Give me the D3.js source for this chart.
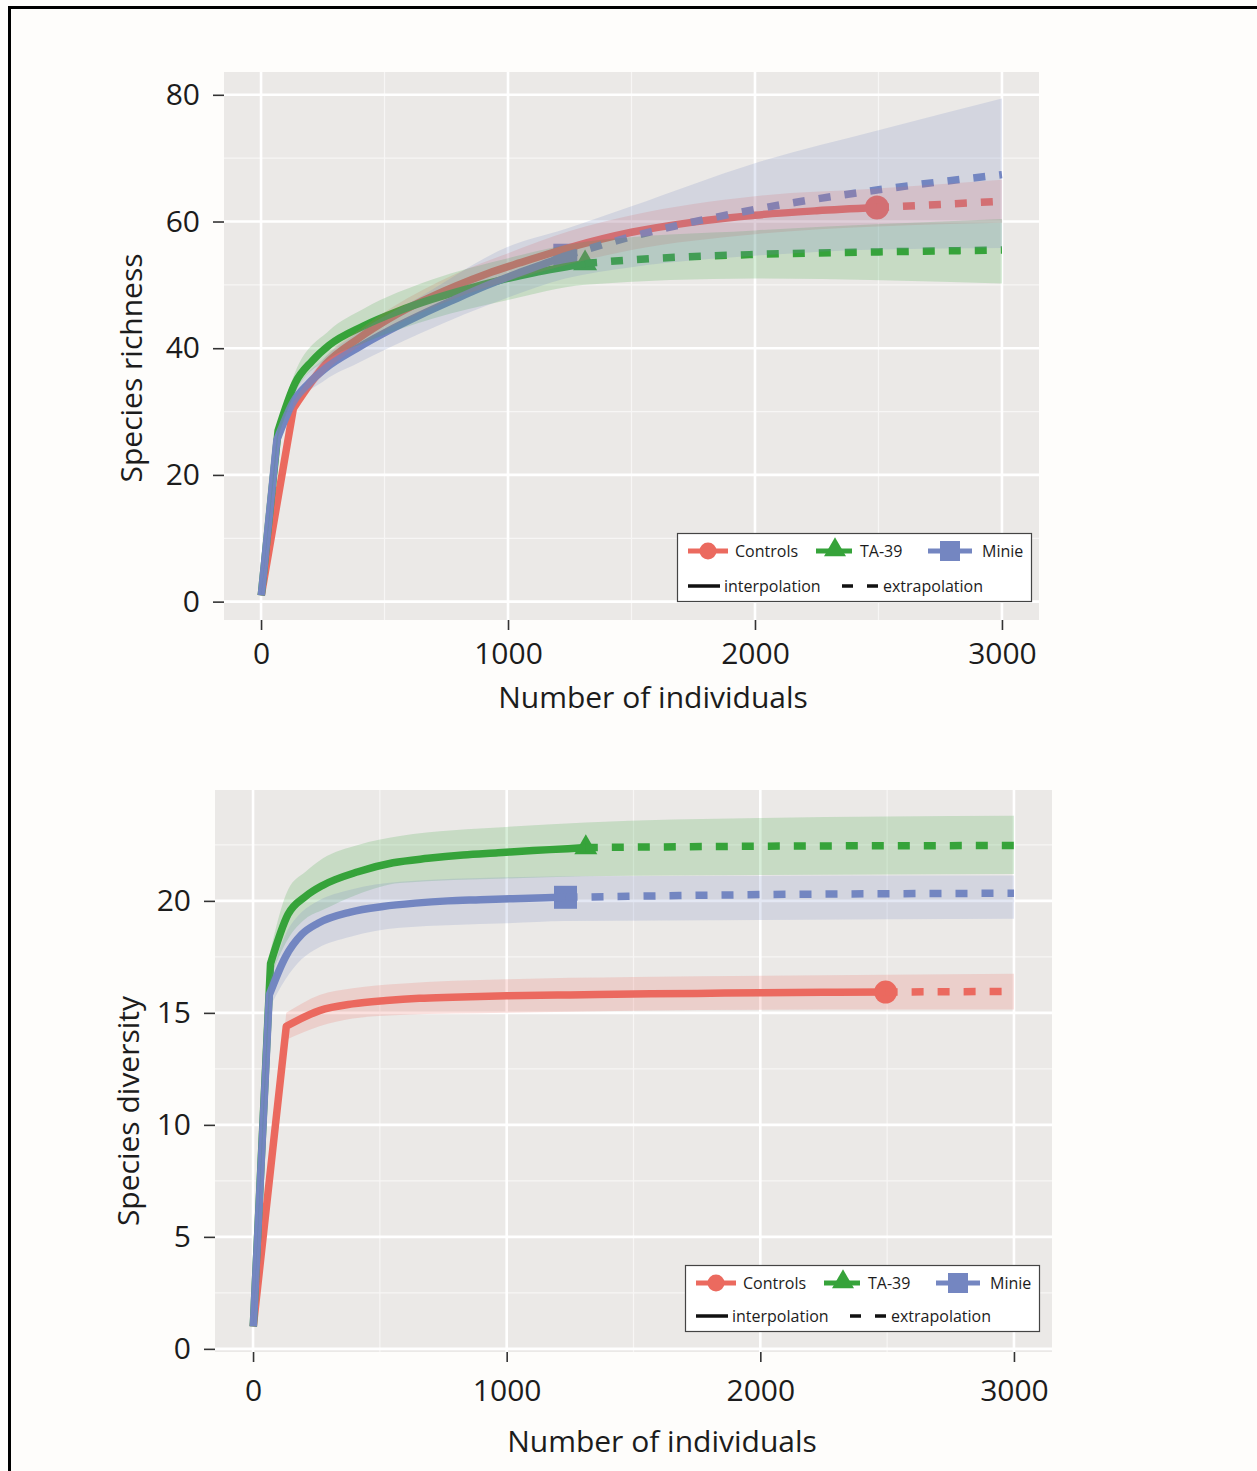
<!DOCTYPE html>
<html><head><meta charset="utf-8">
<script src="https://cdn.jsdelivr.net/npm/d3@7"></script>
<style>
body{margin:0;background:#fefdfb;}
svg{display:block;}
text{font-family:"Open Sans",sans-serif;fill:#1c1c1c;}
</style>
</head><body><svg id="c" width="1257" height="1471"></svg>
<script>
// ---------------- data ----------------
const groups = ["Controls", "TA-39", "Minie"];
const colors = ["#eb6a5f", "#36a33a", "#7486c1"];
const shapes = ["circle", "triangle", "square"];
const xTicks = [0, 1000, 2000, 3000];
const richTicks = [0, 20, 40, 60, 80];
const divTicks = [0, 5, 10, 15, 20];

// Species richness (top)
const richCtrlInterp = [[1,1],[131,30.5],[262,37.5],[393,41.5],[525,44.8],[656,47.5],[787,49.8],[918,51.8],[1050,53.5],[1250,55.9],[1500,58.3],[1750,59.9],[2000,61],[2250,61.7],[2494,62.2]];
const richCtrlExtrap = [[2494,62.2],[2750,62.7],[3000,63.2]];
const richCtrlBand = [[1,1,1],[131,29.5,31.5],[262,36.3,38.7],[393,40.2,42.8],[525,43.3,46.3],[787,47.9,51.7],[1000,50.6,55.0],[1250,53.3,58.5],[1500,55.5,61.0],[2000,58.0,64.0],[2494,59.2,65.2],[3000,59.8,66.6]];
const richTaInterp = [[1,1],[69,27],[138,34.5],[207,38],[276,40.5],[414,43.5],[552,45.8],[690,47.7],[828,49.3],[966,50.7],[1104,51.9],[1242,52.9],[1312,53.4]];
const richTaExtrap = [[1312,53.4],[1600,54.2],[2000,54.8],[2500,55.2],[3000,55.5]];
const richTaBand = [[1,1,1],[69,26,28],[138,33,36.2],[276,38.4,42.8],[414,40.8,46.2],[690,44.6,50.8],[1000,47.6,54.2],[1312,50,56.8],[2000,51,58.6],[3000,50.2,60.4]];
const richMinInterp = [[1,1],[64,25.5],[130,31.5],[194,34.5],[260,36.8],[389,40],[518,42.8],[648,45.3],[778,47.6],[907,49.8],[1037,51.8],[1166,53.6],[1232,54.6]];
const richMinExtrap = [[1232,54.6],[1500,57.6],[2000,61.9],[2500,65],[3000,67.4]];
const richMinBand = [[1,1,1],[64,24.5,26.5],[130,30.3,32.7],[260,35,38.6],[389,37.6,42.4],[648,42.4,48.2],[1000,48,56],[1232,51,58.8],[1500,52.8,62.4],[2000,54.6,69.2],[2500,55.6,74.4],[3000,55.8,79.4]];

// Species diversity (bottom)
const divCtrlInterp = [[1,1],[131,14.4],[262,15.1],[393,15.4],[525,15.55],[656,15.65],[787,15.7],[1000,15.76],[1250,15.8],[1500,15.84],[1750,15.87],[2000,15.9],[2250,15.92],[2494,15.93]];
const divCtrlExtrap = [[2494,15.93],[3000,15.96]];
const divCtrlBand = [[1,1,1],[131,13.8,15.0],[262,14.4,15.8],[393,14.75,16.1],[579,14.9,16.3],[1000,15.0,16.5],[1500,15.1,16.6],[2494,15.15,16.7],[3000,15.15,16.75]];
const divTaInterp = [[1,1],[69,17.2],[138,19.4],[207,20.2],[276,20.7],[414,21.3],[552,21.7],[690,21.9],[828,22.05],[966,22.15],[1104,22.25],[1242,22.33],[1312,22.38]];
const divTaExtrap = [[1312,22.38],[2000,22.44],[3000,22.47]];
const divTaBand = [[1,1,1],[69,16.6,17.8],[138,18.3,20.5],[207,19.2,21.3],[276,19.6,21.9],[414,20.3,22.5],[579,20.8,22.9],[1000,21.0,23.3],[1312,21.1,23.5],[2000,21.15,23.7],[3000,21.2,23.8]];
const divMinInterp = [[1,1],[64,15.8],[128,17.5],[192,18.5],[256,19.0],[384,19.5],[512,19.75],[640,19.9],[768,20.0],[896,20.05],[1024,20.1],[1152,20.14],[1232,20.16]];
const divMinExtrap = [[1232,20.16],[2000,20.28],[3000,20.34]];
const divMinBand = [[1,1,1],[64,15.2,16.4],[128,16.5,18.5],[192,17.4,19.5],[256,17.9,20.0],[384,18.4,20.5],[579,18.8,20.85],[1000,19.0,21.05],[1232,19.1,21.1],[2000,19.15,21.12],[3000,19.2,21.13]];

// ---------------- drawing ----------------
const svg = d3.select("#c");
svg.append("rect").attr("width",1257).attr("height",1471).attr("fill","#fefdfb");
svg.append("path").attr("d","M9.5,1471 V7.5 H1257").attr("fill","none").attr("stroke","#000").attr("stroke-width",3);

function marker(g, shape, cx, cy, s, color){
  if(shape==="circle") g.append("circle").attr("cx",cx).attr("cy",cy).attr("r",s/2).attr("fill",color);
  else if(shape==="square") g.append("path").attr("d",d3.symbol(d3.symbolSquare, s*s)()).attr("transform",`translate(${cx},${cy})`).attr("fill",color);
  else g.append("path").attr("d",d3.symbol(d3.symbolTriangle, s*s*Math.sqrt(3)/4)()).attr("transform",`translate(${cx},${cy})`).attr("fill",color);
}

function panel(cfg){
  const x = d3.scaleLinear().domain(cfg.xDomain).range([cfg.left, cfg.right]);
  const y = d3.scaleLinear().domain(cfg.yDomain).range([cfg.bottom, cfg.top]);
  const g = svg.append("g");
  g.append("rect").attr("x",cfg.left).attr("y",cfg.top).attr("width",cfg.right-cfg.left).attr("height",cfg.bottom-cfg.top).attr("fill","#ebe9e7");
  const xMinor = xTicks.slice(0,-1).map((d,i)=>(d+xTicks[i+1])/2);
  const yMinor = cfg.yTicks.slice(0,-1).map((d,i)=>(d+cfg.yTicks[i+1])/2);
  yMinor.push(cfg.yTicks[cfg.yTicks.length-1] + (cfg.yTicks[1]-cfg.yTicks[0])/2);
  g.selectAll(".xm").data(xMinor).join("line").attr("x1",d=>x(d)).attr("x2",d=>x(d)).attr("y1",cfg.top).attr("y2",cfg.bottom).attr("stroke","#f7f6f5").attr("stroke-width",1.2);
  g.selectAll(".ym").data(yMinor.filter(d=>y(d)>cfg.top)).join("line").attr("y1",d=>y(d)).attr("y2",d=>y(d)).attr("x1",cfg.left).attr("x2",cfg.right).attr("stroke","#f7f6f5").attr("stroke-width",1.2);
  g.selectAll(".xM").data(xTicks).join("line").attr("x1",d=>x(d)).attr("x2",d=>x(d)).attr("y1",cfg.top).attr("y2",cfg.bottom).attr("stroke","#fff").attr("stroke-width",2.6);
  g.selectAll(".yM").data(cfg.yTicks).join("line").attr("y1",d=>y(d)).attr("y2",d=>y(d)).attr("x1",cfg.left).attr("x2",cfg.right).attr("stroke","#fff").attr("stroke-width",2.6);

  const smooth = d3.line().x(d=>x(d[0])).y(d=>y(d[1])).curve(d3.curveMonotoneX);
  const linear = d3.line().x(d=>x(d[0])).y(d=>y(d[1]));
  // straight first segment (1 -> first knot), smooth afterwards
  const interpPath = pts => `M${x(pts[0][0])},${y(pts[0][1])}L` + smooth(pts.slice(1)).slice(1);
  const areaS = d3.area().x(d=>x(d[0])).y0(d=>y(d[1])).y1(d=>y(d[2])).curve(d3.curveMonotoneX);
  const areaL = d3.area().x(d=>x(d[0])).y0(d=>y(d[1])).y1(d=>y(d[2]));
  const bandPath = b => areaL(b.slice(0,2)) + areaS(b.slice(1));

  // points first
  cfg.series.forEach((s,i)=>{
    const p = s.interp[s.interp.length-1];
    marker(g, shapes[i], x(p[0]), y(p[1]), cfg.msize, colors[i]);
  });
  // lines
  cfg.series.forEach((s,i)=>{
    g.append("path").attr("d",interpPath(s.interp)).attr("fill","none").attr("stroke",colors[i]).attr("stroke-width",7.5).attr("stroke-linejoin","round");
    g.append("path").attr("d",smooth(s.extrap)).attr("fill","none").attr("stroke",colors[i]).attr("stroke-width",7.5).attr("stroke-dasharray","12 14");
  });
  // ribbons on top
  cfg.series.forEach((s,i)=>{
    g.append("path").attr("d",bandPath(s.band)).attr("fill",colors[i]).attr("fill-opacity",0.2);
  });

  // axes
  const ax = g.append("g").attr("transform",`translate(0,${cfg.bottom})`)
    .call(d3.axisBottom(x).tickValues(xTicks).tickFormat(d3.format("d")).tickSize(10).tickPadding(cfg.xPad));
  const ay = g.append("g").attr("transform",`translate(${cfg.left},0)`)
    .call(d3.axisLeft(y).tickValues(cfg.yTicks).tickSize(11).tickPadding(cfg.yPad));
  [ax,ay].forEach(a=>{
    a.select(".domain").remove();
    a.selectAll(".tick line").attr("stroke","#333").attr("stroke-width",1.6);
    a.selectAll(".tick text").attr("font-family","Open Sans").attr("font-size",30).attr("fill","#1c1c1c");
  });
  g.append("text").attr("x",cfg.xTitle[0]).attr("y",cfg.xTitle[1]).attr("text-anchor","middle").attr("dy","0.35em").attr("font-size",30).text("Number of individuals");
  g.append("text").attr("transform",`translate(${cfg.yTitle[0]},${cfg.yTitle[1]}) rotate(-90)`).attr("text-anchor","middle").attr("dy","0.35em").attr("font-size",30).text(cfg.yLabel);

  // legend
  const L = g.append("g").attr("transform",`translate(${cfg.legend[0]},${cfg.legend[1]})`);
  L.append("rect").attr("x",0.5).attr("y",0.5).attr("width",354).attr("height",cfg.legend[2]).attr("fill","#fff").attr("stroke","#444").attr("stroke-width",1.2);
  const r1 = 18, r2 = cfg.legend[2]-15;
  const keys = [{x0:11,x1:51,m:31,t:58},{x0:139,x1:175,m:158,t:183},{x0:251,x1:295,m:273,t:305}];
  const lsz = [17,22,20];
  keys.forEach((k,i)=>{
    L.append("line").attr("x1",k.x0).attr("x2",k.x1).attr("y1",r1).attr("y2",r1).attr("stroke",colors[i]).attr("stroke-width",5);
    marker(L, shapes[i], k.m, r1 + (i===1?-1:0), lsz[i], colors[i]);
    L.append("text").attr("x",k.t).attr("y",r1).attr("dy","0.35em").attr("font-size",16).text(groups[i]);
  });
  L.append("line").attr("x1",11).attr("x2",43).attr("y1",r2).attr("y2",r2).attr("stroke","#111").attr("stroke-width",3.5);
  L.append("text").attr("x",47).attr("y",r2).attr("dy","0.35em").attr("font-size",16).text("interpolation");
  L.append("line").attr("x1",165).attr("x2",201).attr("y1",r2).attr("y2",r2).attr("stroke","#111").attr("stroke-width",3.5).attr("stroke-dasharray","11 14");
  L.append("text").attr("x",206).attr("y",r2).attr("dy","0.35em").attr("font-size",16).text("extrapolation");
}

panel({
  left:224, right:1039, top:72, bottom:620,
  xDomain:[-150,3150], yDomain:[-2.9,83.6], yTicks:richTicks,
  xPad:13, yPad:13, msize:24,
  xTitle:[653,697], yTitle:[131,368], yLabel:"Species richness",
  legend:[677,533,68],
  series:[
    {interp:richCtrlInterp, extrap:richCtrlExtrap, band:richCtrlBand},
    {interp:richTaInterp, extrap:richTaExtrap, band:richTaBand},
    {interp:richMinInterp, extrap:richMinExtrap, band:richMinBand}
  ]
});

panel({
  left:215, right:1052, top:790, bottom:1352,
  xDomain:[-150,3150], yDomain:[-0.14,24.95], yTicks:divTicks,
  xPad:18, yPad:13, msize:23,
  xTitle:[662,1441], yTitle:[128,1111], yLabel:"Species diversity",
  legend:[685,1265,66],
  series:[
    {interp:divCtrlInterp, extrap:divCtrlExtrap, band:divCtrlBand},
    {interp:divTaInterp, extrap:divTaExtrap, band:divTaBand},
    {interp:divMinInterp, extrap:divMinExtrap, band:divMinBand}
  ]
});
</script></body></html>
